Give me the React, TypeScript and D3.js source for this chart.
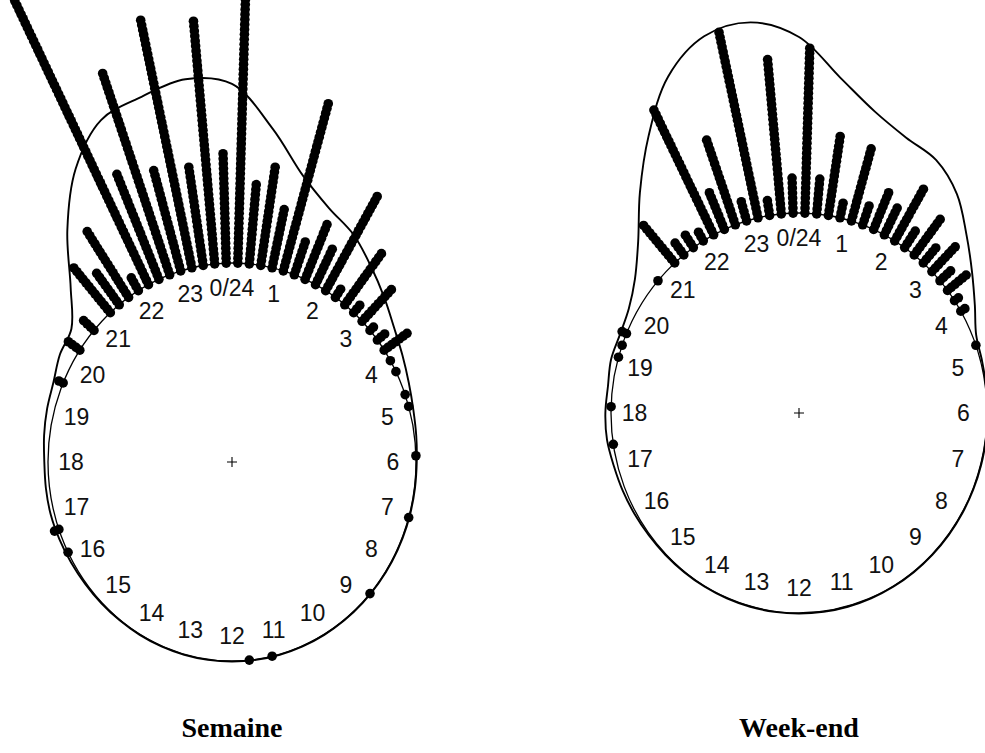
import * as d3 from "d3";

const W = 985;
const H = 753;
const N_BINS = 100;
const SEP = 0.025;

const hourLabels = [
  "0/24", "1", "2", "3", "4", "5", "6", "7", "8", "9", "10", "11",
  "12", "13", "14", "15", "16", "17", "18", "19", "20", "21", "22", "23",
];

// stacked points: bin index (100 bins round the clock) and number of points
const semaineBins = [
  0, 1, 2, 3, 4, 5, 6, 7, 8, 9, 10, 11, 12, 13, 14, 15, 16, 17,
  19, 20, 24, 29, 36, 46, 48, 67, 69, 81, 84, 86,
  88, 89, 90, 91, 92, 93, 94, 95, 96, 97, 98, 99,
];
const semaineCounts = [
  60, 17, 21, 13, 36, 8, 13, 9, 23, 3, 14, 3, 10, 2, 3, 7, 1, 1,
  1, 1, 1, 1, 1, 1, 1, 1, 2, 2, 4, 4,
  13, 9, 17, 4, 68, 24, 44, 22, 52, 21, 50, 23,
];

const weekendBins = [
  0, 1, 2, 3, 4, 5, 6, 7, 8, 9, 10, 11, 12, 13, 14, 15, 16, 19,
  72, 75, 79, 80, 81, 86,
  88, 89, 90, 91, 92, 93, 94, 95, 96, 97, 98, 99,
];
const weekendCounts = [
  34, 8, 17, 4, 16, 5, 9, 7, 13, 5, 10, 5, 8, 4, 6, 2, 2, 1,
  1, 1, 1, 1, 2, 1,
  11, 4, 4, 3, 29, 9, 19, 5, 39, 4, 32, 8,
];

// density curve radius (1 = circle), every half hour from 0h to 23.5h
const densityHours = d3.range(0, 24, 0.5);
const semaineDensity = [
  1.90, 1.69, 1.49, 1.38, 1.32, 1.24, 1.17, 1.11, 1.07, 1.04, 1.02, 1.01,
  1.004, 1.003, 1.003, 1.003, 1.003, 1.003, 1.003, 1.003, 1.003, 1.003, 1.003, 1.003,
  1.003, 1.003, 1.003, 1.003, 1.003, 1.003, 1.004, 1.006, 1.01, 1.015, 1.02, 1.02,
  1.02, 1.03, 1.04, 1.05, 1.08, 1.10, 1.24, 1.47, 1.70, 1.86, 1.90, 1.94,
];
const weekendDensity = [
  1.88, 1.69, 1.56, 1.49, 1.46, 1.38, 1.26, 1.16, 1.08, 1.02, 1.008, 1.004,
  1.003, 1.003, 1.003, 1.003, 1.003, 1.003, 1.003, 1.003, 1.003, 1.003, 1.003, 1.003,
  1.003, 1.003, 1.003, 1.003, 1.003, 1.003, 1.004, 1.006, 1.01, 1.015, 1.02, 1.03,
  1.03, 1.025, 1.035, 1.03, 1.045, 1.10, 1.21, 1.39, 1.60, 1.82, 1.95, 1.97,
];

type PanelProps = {
  cx: number;
  cy: number;
  rx: number;
  ry: number;
  bins: number[];
  counts: number[];
  density: number[];
  title: string;
};

const Panel = ({ cx, cy, rx, ry, bins, counts, density, title }: PanelProps) => {
  const angle = d3.scaleLinear().domain([0, 24]).range([0, 2 * Math.PI]);
  const binHour = d3.scaleLinear().domain([0, N_BINS]).range([0, 24]);
  const sx = d3.scaleLinear().domain([-1, 1]).range([cx - rx, cx + rx]);
  const sy = d3.scaleLinear().domain([-1, 1]).range([cy + ry, cy - ry]);
  const pt = (hour: number, r: number): [number, number] => [
    sx(r * Math.sin(angle(hour))),
    sy(r * Math.cos(angle(hour))),
  ];

  const dots = bins.flatMap((b, i) =>
    d3.range(counts[i]).map((k) => pt(binHour(b + 0.5), 1 + k * SEP))
  );

  const densityPath = d3
    .line()
    .curve(d3.curveCatmullRomClosed.alpha(0.5))(
      densityHours.map((h, i) => pt(h, density[i]))
    );

  return (
    <g>
      <ellipse cx={cx} cy={cy} rx={rx} ry={ry} fill="none" stroke="#000" strokeWidth={1.3} />
      <path d={densityPath || ""} fill="none" stroke="#000" strokeWidth={1.9} />
      {dots.map((d, i) => (
        <circle key={i} cx={d[0]} cy={d[1]} r={4.8} fill="#000" />
      ))}
      {hourLabels.map((lab, i) => {
        const [x, y] = pt(i, 0.875);
        return (
          <text
            key={lab}
            x={x}
            y={y}
            dy="0.36em"
            textAnchor="middle"
            fontFamily="'Liberation Sans', Arial, sans-serif"
            fontSize={23}
            fill="#111"
          >
            {lab}
          </text>
        );
      })}
      <path
        d={`M${cx - 5},${cy}H${cx + 5}M${cx},${cy - 5}V${cy + 5}`}
        stroke="#000"
        strokeWidth={1.1}
      />
      <text
        x={cx}
        y={737}
        textAnchor="middle"
        fontFamily="'Liberation Serif', 'Times New Roman', serif"
        fontWeight="bold"
        fontSize={28}
        fill="#000"
      >
        {title}
      </text>
    </g>
  );
};

export default function App() {
  return (
    <svg
      width={W}
      height={H}
      style={{ position: "absolute", left: 0, top: 0, background: "#fff" }}
    >
      <Panel
        cx={232}
        cy={462}
        rx={184}
        ry={199}
        bins={semaineBins}
        counts={semaineCounts}
        density={semaineDensity}
        title="Semaine"
      />
      <Panel
        cx={799}
        cy={413}
        rx={188}
        ry={200}
        bins={weekendBins}
        counts={weekendCounts}
        density={weekendDensity}
        title="Week-end"
      />
    </svg>
  );
}
